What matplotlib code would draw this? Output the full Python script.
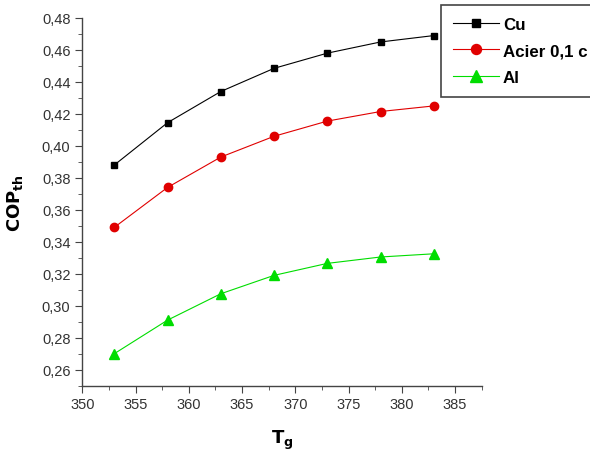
import matplotlib
matplotlib.use('Agg')
import matplotlib.pyplot as plt
from matplotlib.ticker import MultipleLocator, FuncFormatter

# Tg values and COP_th for each material
t_g = [353, 358, 363, 368, 373, 378, 383]
cop_cu = [0.388, 0.4145, 0.434, 0.4485, 0.458, 0.465, 0.469]
cop_acier = [0.349, 0.374, 0.393, 0.406, 0.4155, 0.4215, 0.425]
cop_al = [0.270, 0.291, 0.3075, 0.319, 0.3265, 0.3305, 0.3325]
labels = ['Cu', 'Acier 0,1 c', 'Al']

plt.rcParams['font.family'] = ['Liberation Sans', 'DejaVu Sans']

fig = plt.figure(figsize=(5.9, 4.52), dpi=100)
ax = fig.add_axes([0.1395, 0.1445, 0.677, 0.8135])

h1, = ax.plot(t_g, cop_cu, color='black', marker='s', markersize=5, linewidth=0.8)
h2, = ax.plot(t_g, cop_acier, color='#e00000', marker='o', markersize=6, linewidth=0.8)
h3, = ax.plot(t_g, cop_al, color='#00dd00', marker='^', markersize=7, linewidth=0.8)

ax.set_xlim(350, 387.5)
ax.set_ylim(0.25, 0.48)
ax.xaxis.set_major_locator(MultipleLocator(5))
ax.xaxis.set_minor_locator(MultipleLocator(2.5))
ax.yaxis.set_major_locator(MultipleLocator(0.02))
ax.yaxis.set_minor_locator(MultipleLocator(0.01))
ax.yaxis.set_major_formatter(FuncFormatter(lambda v, p: ('%.2f' % v).replace('.', ',')))

for s in ['top', 'right']:
    ax.spines[s].set_visible(False)
for s in ['left', 'bottom']:
    ax.spines[s].set_color('#444444')
    ax.spines[s].set_linewidth(1.0)
ax.tick_params(which='major', direction='out', length=5, color='#444444', labelsize=10.5, labelcolor='#333333')
ax.tick_params(which='minor', direction='out', length=3, color='#444444')

ax.set_xlabel(r'$\mathbf{T_g}$', fontsize=13, labelpad=12)
ax.set_ylabel(r'$\mathbf{COP_{th}}$', fontsize=13, labelpad=12)

leg = fig.legend([h1, h2, h3], labels, loc='upper left', bbox_to_anchor=(0.7475, 0.987),
                 fancybox=False, framealpha=1, edgecolor='#444444', borderpad=0.7,
                 handlelength=2.7, handletextpad=0.25, labelspacing=0.68, borderaxespad=0,
                 markerscale=1.2, prop={'weight': 'bold', 'size': 12.2})
leg.get_frame().set_linewidth(1.2)

fig.savefig('out.png', dpi=100)
